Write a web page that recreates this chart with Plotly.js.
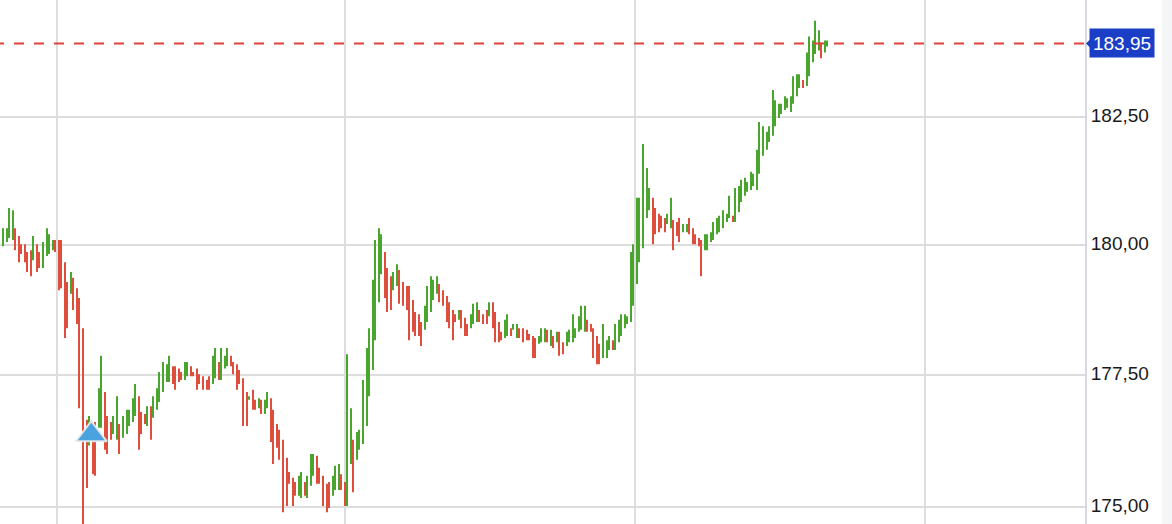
<!DOCTYPE html>
<html>
<head>
<meta charset="utf-8">
<script src="https://cdn.plot.ly/plotly-3.0.1.min.js"></script>
<style>html,body{margin:0;padding:0;background:#fff}#chart{width:1172px;height:524px}</style>
</head>
<body>
<div id="chart"></div>
<script>
const highs = [
180.33,180.33,180.72,180.68,180.33,180.18,180.02,180.02,179.87,179.90,180.18,180.02,179.87,180.06,180.33,180.21,180.10,180.10,180.10,180.10,
179.67,179.29,179.48,179.37,179.17,178.98,178.40,176.65,176.72,176.42,176.61,177.25,177.87,177.18,176.72,176.61,176.72,177.10,176.57,176.72,
176.84,176.84,177.06,177.33,177.10,176.80,176.76,176.91,176.91,177.10,177.25,177.56,177.75,177.71,177.87,177.67,177.67,177.63,177.56,177.75,
177.75,177.67,177.56,177.63,177.52,177.48,177.41,177.48,177.87,178.02,177.75,178.02,177.87,178.02,177.87,177.75,177.71,177.60,177.44,177.18,
177.10,177.22,177.03,177.06,177.03,177.03,177.18,177.06,176.84,176.57,176.46,176.27,175.93,175.66,175.55,175.47,175.59,175.66,175.47,175.59,
176.00,176.00,175.97,175.74,175.59,175.44,175.47,175.59,175.78,175.81,175.62,175.47,177.90,176.87,176.27,176.42,176.46,177.41,178.02,178.40,
179.33,180.10,180.33,180.21,179.87,179.56,179.40,179.48,179.63,179.52,179.29,179.21,179.21,178.94,178.71,178.67,178.52,178.83,179.21,179.40,
179.33,179.40,179.25,179.13,179.02,178.90,178.75,178.67,178.75,178.75,178.60,178.48,178.67,178.87,178.90,178.75,178.67,178.75,178.90,178.90,
178.71,178.52,178.33,178.56,178.67,178.40,178.48,178.48,178.40,178.40,178.37,178.29,178.25,178.21,178.25,178.40,178.40,178.37,178.37,178.25,
178.33,178.33,178.13,178.33,178.37,178.67,178.40,178.63,178.83,178.83,178.56,178.48,178.40,178.25,178.10,178.48,178.17,178.25,178.17,178.48,
178.56,178.67,178.67,178.63,179.87,180.02,180.92,180.92,181.97,181.50,181.11,180.92,180.72,180.61,180.57,180.53,180.61,180.92,180.49,180.45,
180.53,180.41,180.41,180.53,180.33,180.21,180.14,180.10,180.21,180.21,180.25,180.45,180.53,180.57,180.68,180.61,180.96,180.57,181.11,181.15,
181.27,181.31,181.23,181.43,181.39,181.86,182.40,182.32,182.21,182.32,183.03,182.83,182.76,182.76,182.91,182.87,182.91,183.30,183.34,183.34,
183.23,183.77,184.09,184.01,184.40,184.21,183.97,184.01,184.01];
const lows = [
179.98,180.06,180.14,180.10,179.90,179.67,179.83,179.67,179.48,179.40,179.71,179.48,179.56,179.56,179.79,179.83,179.90,179.87,179.13,179.17,
178.21,178.40,179.06,178.75,178.48,176.87,174.60,175.36,176.16,175.62,175.59,176.50,176.50,176.08,176.00,176.27,176.38,176.27,176.00,176.31,
176.38,176.53,176.61,176.72,176.08,176.38,176.57,176.53,176.27,176.69,176.84,176.99,177.18,177.37,177.37,177.33,177.22,177.37,177.41,177.41,
177.48,177.48,177.48,177.22,177.33,177.22,177.22,177.22,177.33,177.44,177.41,177.41,177.63,177.67,177.67,177.52,177.22,177.33,176.53,176.53,
177.03,176.84,176.84,176.87,176.76,176.76,176.87,176.23,175.81,176.12,175.89,174.90,175.02,175.44,175.02,175.21,175.21,175.17,175.21,175.17,
175.40,175.59,175.44,175.44,175.02,174.90,174.98,175.21,175.32,175.32,175.32,175.02,175.02,175.81,175.28,175.89,176.08,176.19,176.53,177.10,
177.60,178.17,178.90,179.44,178.98,178.71,178.75,179.13,179.21,178.87,178.83,178.75,178.17,178.33,178.25,178.25,178.06,178.37,178.52,178.71,
178.94,179.06,178.90,178.83,178.52,178.40,178.17,178.52,178.56,178.40,178.25,178.25,178.40,178.48,178.52,178.52,178.48,178.48,178.63,178.40,
178.13,178.13,178.17,178.21,178.25,178.25,178.37,178.21,178.21,178.13,178.17,178.17,177.83,177.83,178.10,178.13,178.13,178.13,178.06,178.02,
178.13,177.87,177.90,178.06,178.13,178.13,178.21,178.33,178.37,178.33,178.33,178.33,177.83,177.71,177.71,177.83,177.83,177.98,177.98,177.98,
178.13,178.25,178.40,178.48,178.52,178.83,179.25,179.67,179.94,180.53,180.68,180.02,180.21,180.25,180.33,180.25,180.41,180.33,179.90,180.18,
180.06,180.25,180.25,180.21,180.02,180.02,179.98,179.40,179.90,179.90,180.06,180.10,180.21,180.25,180.33,180.45,180.53,180.45,180.45,180.64,
180.84,180.96,181.04,181.07,181.15,181.07,181.39,181.74,181.86,182.01,182.13,182.32,182.48,182.56,182.64,182.68,182.60,182.76,182.91,183.07,
183.07,183.11,183.30,183.58,183.74,183.81,183.66,183.77,183.89];
const ups = [
1,1,1,1,0,0,0,0,0,0,1,0,0,1,1,1,1,0,0,0,
0,0,1,0,0,0,0,0,1,0,0,1,1,0,0,0,1,1,0,1,
1,1,1,1,0,0,0,1,0,1,1,1,1,1,1,0,0,0,0,1,
1,0,0,0,0,0,0,0,1,1,0,1,1,1,0,0,0,0,0,0,
1,0,0,1,0,1,1,0,0,0,0,0,0,0,0,0,1,1,0,1,
1,1,0,0,0,0,0,1,1,1,0,0,1,1,0,1,1,1,1,1,
1,1,1,1,0,0,0,1,1,0,0,0,0,0,0,0,0,1,1,1,
1,1,0,0,0,0,0,0,1,0,0,0,1,1,1,0,0,0,1,0,
0,0,0,1,1,0,1,1,0,0,0,0,0,0,1,1,1,0,1,0,
1,0,0,1,1,1,1,1,1,1,0,0,0,0,0,1,1,1,0,1,
1,1,1,1,1,1,1,1,1,1,1,0,0,0,0,0,1,1,0,0,
0,1,1,0,0,0,0,0,1,1,1,1,1,1,1,1,1,0,1,1,
1,1,1,1,1,1,1,1,1,1,1,1,1,1,1,1,1,1,1,1,
0,1,1,1,1,1,0,1,1];
const lastPrice = 183.95;
const lastLabel = '183,95';
const signalPrice = 176.37;
const priceTicks = [175, 177.5, 180, 182.5];
const priceLabels = ['175,00', '177,50', '180,00', '182,50'];
const sessionSlots = [18.525, 112.125, 206.375, 300.625];

const UP = '#4aa52e', DOWN = '#dd4f3c', GRID = '#dddddd', TAG = '#1a3fc6', SIGNAL = '#4aa3df';
const PLOT_W = 1085, W = 1172, H = 524;
const SLOT_PX = 40 / 13;
const BAR_PX = 2;
const FONT = '"Liberation Sans", Arial, sans-serif';
const LOG_RANGE = [2.242244, 2.266731];
// The source chart snaps every bar onto an even pixel column.
const slotAt = i => (2 * Math.floor(1.47 + i * 20 / 13) + BAR_PX / 2) / SLOT_PX;
const xs = highs.map((_, i) => slotAt(i));
const tagY = (Math.log10(lastPrice) - LOG_RANGE[0]) / (LOG_RANGE[1] - LOG_RANGE[0]);

const traces = [
  { type: 'bar', x: xs, y: highs.map((h, i) => h - lows[i]), base: lows,
    width: BAR_PX / SLOT_PX, hoverinfo: 'skip',
    marker: { color: ups.map(u => u ? UP : DOWN), line: { width: 0 } } },
  { type: 'scatter', mode: 'markers', x: [xs[29] - 0.55], y: [signalPrice], hoverinfo: 'skip',
    marker: { symbol: 'triangle-up', size: 27, color: SIGNAL, line: { color: 'rgba(236,236,236,0.9)', width: 2 } } }
];

const layout = {
  width: W, height: H, showlegend: false, hovermode: false,
  margin: { l: 0, r: W - PLOT_W, t: 0, b: 0, pad: 0 },
  paper_bgcolor: '#ffffff', plot_bgcolor: '#ffffff',
  font: { family: FONT, size: 19, color: '#1a1a1a' },
  barmode: 'overlay',
  xaxis: { type: 'linear', range: [0, PLOT_W / SLOT_PX], tickmode: 'array', tickvals: sessionSlots,
    showticklabels: false, ticks: '', showgrid: true, gridcolor: GRID, gridwidth: 2, zeroline: false, showline: false, fixedrange: true },
  yaxis: { type: 'log', side: 'right', range: LOG_RANGE, tickmode: 'array', tickvals: priceTicks, ticktext: priceLabels,
    ticks: '', showgrid: true, gridcolor: GRID, gridwidth: 2, zeroline: false, showline: true, linecolor: '#d6dae0', linewidth: 2,
    ticklabelshift: -2, tickfont: { family: FONT, size: 19, color: '#1a1a1a' }, fixedrange: true },
  shapes: [
    { type: 'rect', xref: 'paper', yref: 'paper', x0: 1162 / PLOT_W, x1: W / PLOT_W, y0: 0, y1: 1, fillcolor: '#f4f5f7', line: { width: 0 }, layer: 'below' },
    { type: 'line', xref: 'x', yref: 'y', x0: -6 / SLOT_PX, x1: PLOT_W / SLOT_PX, y0: lastPrice, y1: lastPrice, layer: 'above',
      line: { color: '#e0433c', width: 2, dash: '10px,10px' } },
    { type: 'path', xref: 'paper', yref: 'paper', layer: 'above', fillcolor: TAG, line: { width: 0 },
      path: `M ${1086 / PLOT_W} ${tagY} L ${1091 / PLOT_W} ${tagY + 5 / H} L ${1091 / PLOT_W} ${tagY - 5 / H} Z` }
  ],
  annotations: [
    { xref: 'paper', yref: 'y', x: 1122 / PLOT_W, y: Math.log10(lastPrice), text: lastLabel, showarrow: false,
      xanchor: 'center', yanchor: 'middle', width: 64, height: 28, bgcolor: TAG, borderpad: 0,
      font: { family: FONT, size: 19, color: '#ffffff' } }
  ]
};
Plotly.newPlot('chart', traces, layout, { displayModeBar: false, staticPlot: true });
</script>
</body>
</html>
